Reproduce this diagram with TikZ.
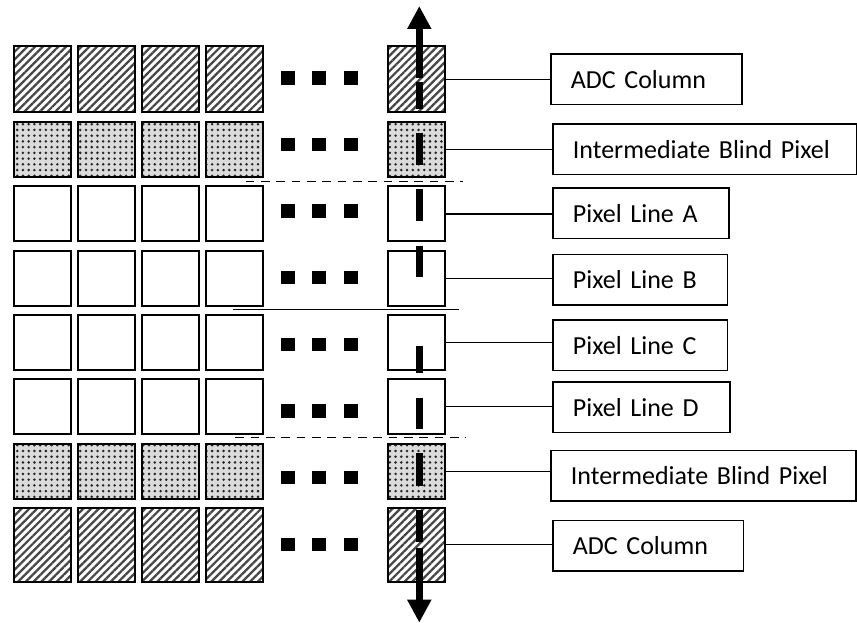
\documentclass[tikz,border=0pt]{standalone}
\usepackage{fontspec}
\setmainfont{Carlito}
\usetikzlibrary{patterns.meta,arrows.meta}
\begin{document}
\begin{tikzpicture}[x=0.75pt,y=-0.75pt,
 sq/.style={draw, line width=1.5pt, minimum width=42.75pt, inner sep=0pt, outer sep=0pt},
 adc/.style={sq, preaction={fill=white}, pattern={Lines[angle=45,distance=4.1pt,line width=1.7pt]}, pattern color=black!72},
 blind/.style={sq, preaction={fill=black!14}, pattern={Dots[distance=4.3pt,radius=1.05pt]}, pattern color=black!85},
 pix/.style={sq, fill=white},
 lbl/.style={draw, line width=1.3pt, anchor=west, inner xsep=15pt, minimum height=37.7pt, align=left, font=\fontsize{19.5pt}{23pt}\selectfont},
 conn/.style={line width=1pt},
 sepline/.style={line width=1pt},
 sepdash/.style={sepline, dash pattern=on 6.5pt off 5pt},
 bigarrow/.style={line width=5.5pt, -{Triangle[width=17pt,length=17.25pt]}},
 seg/.style={line width=5.5pt}]
\useasboundingbox (0,0) rectangle (857,623);
% pixel grid
\foreach \x [count=\i] in {42.2,106.2,170.2,234.2,416.3} {
  \node[adc, minimum height=49.7pt] (r1c\i) at (\x,79.2) {};
  \node[blind, minimum height=41.25pt] (r2c\i) at (\x,149.7) {};
  \node[pix, minimum height=41.25pt] (r3c\i) at (\x,214) {};
  \node[pix, minimum height=41.25pt] (r4c\i) at (\x,278.2) {};
  \node[pix, minimum height=41.25pt] (r5c\i) at (\x,342.5) {};
  \node[pix, minimum height=41.25pt] (r6c\i) at (\x,406.8) {};
  \node[blind, minimum height=41.25pt] (r7c\i) at (\x,471.3) {};
  \node[adc, minimum height=55.5pt] (r8c\i) at (\x,544.7) {};
}
% ellipsis squares
\foreach \y in {78,144.3,211,277.7,344.3,411,477.7,544.2}
  \foreach \x in {287.7,319.3,351.3}
    \fill (\x-7,\y-6.7) rectangle (\x+7,\y+6.7);
% separators
\coordinate (s1a) at (245.7,181.3); \coordinate (s1b) at (463.3,181.3);
\coordinate (s2a) at (233.3,309.3); \coordinate (s2b) at (459.3,309.3);
\coordinate (s3a) at (235.3,437.3); \coordinate (s3b) at (465.7,437.3);
\draw[sepdash] (s1a) -- (s1b);
\draw[sepline] (s2a) -- (s2b);
\draw[sepdash] (s3a) -- (s3b);
% dashed double arrow
\draw[bigarrow] (419.3,78.3) -- (419.3,6);
\foreach \a/\b in {81.7/109.3,133.3/165,189.3/221,246/277.3,345.7/373.3,397.7/429.3,453.3/486,510/541.7}
  \draw[seg] (419.3,\a) -- (419.3,\b);
\draw[bigarrow] (419.3,547.7) -- (419.3,622.7);
% labels
\node[lbl, text width=113.25pt] (L1) at (550,79.3) {ADC Column};
\node[lbl, text width=198pt] (L2) at (552,149.5) {Intermediate Blind Pixel};
\node[lbl, text width=102.2pt] (L3) at (552,213.5) {Pixel Line A};
\node[lbl, text width=101pt] (L4) at (552,279.7) {Pixel Line B};
\node[lbl, text width=101pt] (L5) at (552,345.3) {Pixel Line C};
\node[lbl, text width=102.75pt] (L6) at (552,407.3) {Pixel Line D};
\node[lbl, text width=198.75pt] (L7) at (550,475.7) {Intermediate Blind Pixel};
\node[lbl, text width=113pt] (L8) at (552,545.5) {ADC Column};
% connectors
\foreach \i in {1,...,8}
  \draw[conn] (r\i c5.east) -- (r\i c5.east -| L\i.west);
\end{tikzpicture}
\end{document}
